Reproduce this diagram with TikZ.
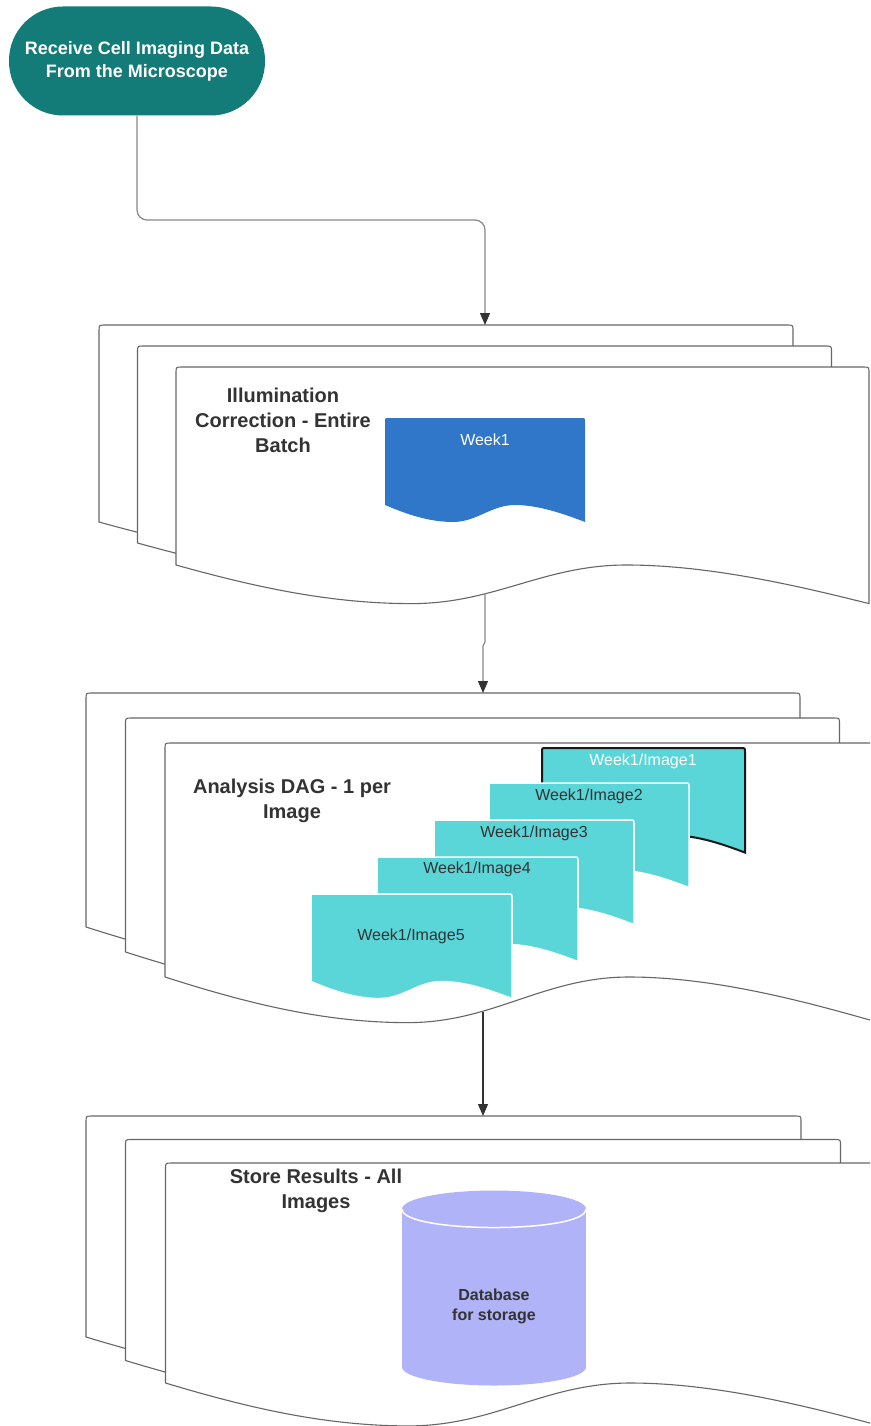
\documentclass[tikz,border=0pt]{standalone}
\usepackage{fontspec}
\setmainfont{Liberation Sans}
\usetikzlibrary{arrows.meta}

\definecolor{startteal}{HTML}{137B78}
\definecolor{weekblue}{HTML}{3077C9}
\definecolor{imgteal}{HTML}{5AD5D8}
\definecolor{dblav}{HTML}{B1B3F8}
\definecolor{inkdark}{HTML}{333333}
\definecolor{sheetline}{HTML}{666666}
\definecolor{linkgray}{HTML}{888888}

% Document sheet with rounded top corners and a wavy lower edge.
% #1 left x, #2 top y, #3 width, #4 height of the left side, #5 corner radius, #6 style
\newcommand\docpage[6]{%
  \pgfmathsetmacro\dpB{#2+#4}%
  \pgfmathsetmacro\dpD{0.195*#4}%
  \pgfmathsetmacro\dpT{\dpB+\dpD}%
  \pgfmathsetmacro\dpM{\dpB+0.55*\dpD}%
  \pgfmathsetmacro\dpE{#1+#3}%
  \path[#6] (#1,\dpB) -- (#1,{#2+#5}) .. controls (#1,#2) .. ({#1+#5},#2)
    -- ({\dpE-#5},#2) .. controls (\dpE,#2) .. (\dpE,{#2+#5})
    -- (\dpE,\dpT)
    .. controls ({#1+0.9*#3},\dpM) and ({#1+0.77*#3},\dpB) .. ({#1+0.65*#3},\dpB)
    .. controls ({#1+0.53*#3},\dpB) and ({#1+0.46*#3},\dpT) .. ({#1+0.34*#3},\dpT)
    .. controls ({#1+0.22*#3},\dpT) and ({#1+0.11*#3},\dpM) .. (#1,\dpB) -- cycle;%
}

\tikzset{
  sheet/.style={draw=sheetline, fill=white, line width=1.1pt, line join=round},
  weekdoc/.style={fill=weekblue},
  imgdoc/.style={fill=imgteal, draw=white, line width=1.5pt},
  imgdocfirst/.style={fill=imgteal, draw=black!90, line width=2pt},
  title/.style={font=\bfseries\fontsize{20}{25}\selectfont, text=inkdark, align=center, inner sep=0pt},
  imglabel/.style={font=\fontsize{16}{19}\selectfont, text=inkdark, inner sep=0pt},
  startbox/.style={fill=startteal, text=white, align=center, rounded corners=54pt,
    minimum width=256pt, minimum height=109pt, inner sep=0pt,
    font=\bfseries\fontsize{18}{23}\selectfont},
  link/.style={draw=linkgray, line width=1.2pt,
    -{Triangle[width=10pt,length=12pt,color=inkdark]}},
}

\begin{document}
\begin{tikzpicture}[x=1pt, y=-1pt]
\useasboundingbox (0,0) rectangle (870,1426);
\fill[white] (0,0) rectangle (870,1426);
\clip (0,0) rectangle (870,1426);

% start terminal
\node[startbox] (recv) at (137,61) {Receive Cell Imaging Data\\From the Microscope};

% stage 1: illumination correction
\docpage{99}{325}{694}{197}{6}{sheet}
\docpage{137.5}{346}{694}{197}{6}{sheet}
\docpage{176}{367}{693}{198}{6}{sheet}
\node[title] (t1) at (283,420) {Illumination\\Correction - Entire\\Batch};
\docpage{385}{418}{200}{87}{4}{weekdoc}
\node[imglabel, text=white] (wk) at (485,440) {Week1};

% stage 2: analysis per image
\docpage{86}{693}{714}{234}{6}{sheet}
\docpage{125.5}{718}{714}{234}{6}{sheet}
\docpage{165}{743}{714}{234}{6}{sheet}
\node[title] (t2) at (292,801) {Analysis DAG - 1 per\\Image};
\docpage{542}{748}{203}{87.5}{4}{imgdocfirst}
\docpage{489}{783}{200}{87.5}{4}{imgdoc}
\docpage{434}{820}{200}{87.5}{4}{imgdoc}
\docpage{377}{857}{201}{87.5}{4}{imgdoc}
\docpage{311}{894}{201}{87.5}{4}{imgdoc}
\node[imglabel, text=white] (i1) at (643,761) {Week1/Image1};
\node[imglabel] (i2) at (589,796) {Week1/Image2};
\node[imglabel] (i3) at (534,833) {Week1/Image3};
\node[imglabel] (i4) at (477,869) {Week1/Image4};
\node[imglabel] (i5) at (411,936) {Week1/Image5};

% stage 3: storing results
\docpage{86}{1116}{715}{221}{6}{sheet}
\docpage{125.5}{1139.5}{715}{221}{6}{sheet}
\docpage{165.5}{1163}{715}{220}{6}{sheet}
\node[title] (t3) at (316,1191) {Store Results - All\\Images};

% database cylinder
\fill[dblav] (402,1209) rectangle (586,1367);
\fill[dblav] (494,1367) ellipse [x radius=92, y radius=18.5];
\fill[dblav] (494,1209) ellipse [x radius=92, y radius=18.5];
\draw[white, line width=1.5pt] (402,1209) .. controls (402,1233.7) and (586,1233.7) .. (586,1209);
\node[font=\bfseries\fontsize{16}{20}\selectfont, text=inkdark, align=center, inner sep=0pt]
  (db) at (494,1306) {Database\\for storage};

% connection points on the sheets
\coordinate (in1) at (485,325);
\coordinate (out1) at (485,593);
\coordinate (in2) at (483,693);
\coordinate (out2) at (483,1012);
\coordinate (in3) at (483,1116);

% connectors
\draw[link, rounded corners=10pt] (recv.south) |- (in1 |- 0,220) -- (in1);
\draw[link] (out1) -- ++(0,49) -- ++(-2,4) -- (in2);
\draw[link, draw=inkdark] (out2) -- (in3);
\end{tikzpicture}
\end{document}
